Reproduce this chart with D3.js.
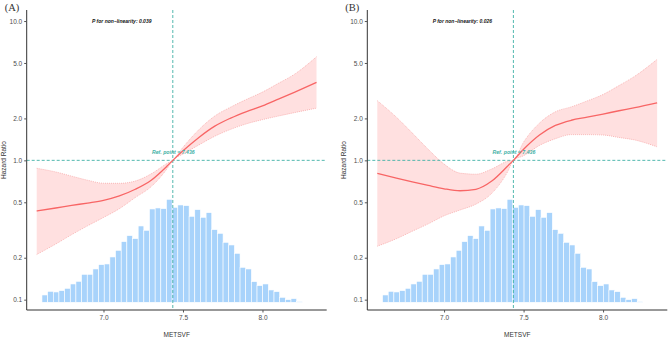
<!DOCTYPE html>
<html>
<head>
<meta charset="utf-8">
<script src="https://cdn.jsdelivr.net/npm/d3@7"></script>
<style>
    body { margin: 0; background: #fff; }
    svg { display: block; }
</style>
</head>
<body>
<div id="chart"></div>
<script>
// METSVF grid where the spline was evaluated
const metsvf = [6.58, 6.7, 6.8, 6.9, 7.0, 7.1, 7.2, 7.3, 7.4, 7.436, 7.5, 7.6, 7.7, 7.8, 7.9, 8.0, 8.1, 8.2, 8.34];

// panel A
const hrA    = [0.433, 0.455, 0.475, 0.494, 0.516, 0.555, 0.62, 0.72, 0.91, 1.0, 1.17, 1.46, 1.76, 2.01, 2.24, 2.46, 2.75, 3.08, 3.63];
const lowerA = [0.211, 0.251, 0.293, 0.339, 0.389, 0.450, 0.541, 0.648, 0.872, 1.0, 1.11, 1.29, 1.49, 1.67, 1.83, 1.96, 2.08, 2.20, 2.37];
const upperA = [0.877, 0.825, 0.77, 0.72, 0.685, 0.684, 0.71, 0.80, 0.95, 1.0, 1.24, 1.66, 2.08, 2.41, 2.74, 3.09, 3.57, 4.14, 5.54];

// panel B
const hrB    = [0.806, 0.745, 0.70, 0.66, 0.625, 0.605, 0.62, 0.71, 0.91, 1.0, 1.20, 1.52, 1.78, 1.94, 2.04, 2.15, 2.27, 2.39, 2.59];
const lowerB = [0.242, 0.274, 0.31, 0.35, 0.40, 0.44, 0.485, 0.58, 0.83, 1.0, 1.08, 1.28, 1.43, 1.53, 1.53, 1.52, 1.46, 1.40, 1.25];
const upperB = [2.68, 2.04, 1.57, 1.20, 0.94, 0.81, 0.795, 0.867, 0.985, 1.0, 1.35, 1.85, 2.23, 2.42, 2.67, 2.97, 3.44, 4.02, 5.31];

// histogram of METSVF (same sample in both panels)
const histStart = 6.613;
const histBinWidth = 0.0356;
const histCounts = [22, 33, 31, 35, 42, 55, 63, 84, 84, 100, 113, 115, 136, 156, 182, 200, 191, 229, 216, 280,
    283, 281, 309, 285, 292, 290, 258, 278, 255, 269, 218, 207, 180, 172, 147, 105, 100, 62, 50, 55,
    37, 32, 15, 8, 11, 2];

const refPoint = 7.436;
const yTicks = [0.1, 0.2, 0.5, 1.0, 2.0, 5.0, 10.0];
const xTicks = [7.0, 7.5, 8.0];
const panels = [
    { tag: "(A)", pText: "P for non\u2212linearity: 0.039", hr: hrA, lower: lowerA, upper: upperA, left: 26.7 },
    { tag: "(B)", pText: "P for non\u2212linearity: 0.026", hr: hrB, lower: lowerB, upper: upperB, left: 367.3 }
];

const width = 669;
const height = 337;
const teal = "#3fb1a6";

let svg = d3.select("#chart")
    .append("svg")
    .attr("width", width)
    .attr("height", height)
    .style("font-family", "Liberation Sans, Arial, sans-serif");

panels.forEach(p => drawPanel(p));

function drawPanel(p) {
    let x = d3.scaleLinear()
        .domain([6.517, 8.404])
        .range([p.left, p.left + 300]);

    let y = d3.scaleLog()
        .domain([0.0843, 12.0])
        .range([310, 10]);

    let hist = d3.scaleLinear()
        .domain([0, d3.max(histCounts)])
        .range([302.3, 199.3]);

    let g = svg.append("g");

    // histogram
    g.append("g")
        .selectAll("rect")
        .data(histCounts)
        .join("rect")
        .attr("x", (d, i) => x(histStart + i * histBinWidth))
        .attr("width", x(histStart + histBinWidth) - x(histStart))
        .attr("y", d => hist(d))
        .attr("height", d => hist(0) - hist(d))
        .attr("fill", "#a8d3fb")
        .attr("stroke", "#fff")
        .attr("stroke-width", 0.6);

    let rows = metsvf.map((m, i) => ({ m: m, hr: p.hr[i], lo: p.lower[i], hi: p.upper[i] }));

    // confidence band
    g.append("path")
        .datum(rows)
        .attr("fill", "#ffe0e0")
        .attr("d", d3.area()
            .x(d => x(d.m))
            .y0(d => y(d.lo))
            .y1(d => y(d.hi))
            .curve(d3.curveMonotoneX));

    ["lo", "hi"].forEach(k => {
        g.append("path")
            .datum(rows)
            .attr("fill", "none")
            .attr("stroke", "#f7a9a9")
            .attr("stroke-width", 0.8)
            .attr("stroke-dasharray", "1,1")
            .attr("d", d3.line()
                .x(d => x(d.m))
                .y(d => y(d[k]))
                .curve(d3.curveMonotoneX));
    });

    // reference lines
    g.append("line")
        .attr("x1", x.range()[0])
        .attr("x2", x.range()[1])
        .attr("y1", y(1))
        .attr("y2", y(1))
        .attr("stroke", teal)
        .attr("stroke-width", 0.9)
        .attr("stroke-dasharray", "3,2");

    g.append("line")
        .attr("x1", x(refPoint))
        .attr("x2", x(refPoint))
        .attr("y1", 10)
        .attr("y2", 310)
        .attr("stroke", teal)
        .attr("stroke-width", 0.9)
        .attr("stroke-dasharray", "3,2");

    // hazard ratio curve
    g.append("path")
        .datum(rows)
        .attr("fill", "none")
        .attr("stroke", "#f86565")
        .attr("stroke-width", 1.3)
        .attr("d", d3.line()
            .x(d => x(d.m))
            .y(d => y(d.hr))
            .curve(d3.curveMonotoneX));

    // axes
    let yAxis = g.append("g")
        .attr("transform", `translate(${p.left}, 0)`)
        .call(d3.axisLeft(y).tickValues(yTicks).tickFormat(d3.format(".1f")).tickSize(2.5).tickPadding(2));

    let xAxis = g.append("g")
        .attr("transform", "translate(0, 310)")
        .call(d3.axisBottom(x).tickValues(xTicks).tickFormat(d3.format(".1f")).tickSize(2.5).tickPadding(3));

    [yAxis, xAxis].forEach(a => {
        a.select(".domain").attr("stroke", "#333").attr("stroke-width", 1);
        a.selectAll(".tick line").attr("stroke", "#555");
        a.selectAll(".tick text")
            .attr("fill", "#4d4d4d")
            .attr("font-size", "6.5px")
            .attr("font-family", "Liberation Sans, Arial, sans-serif");
    });
    yAxis.select(".domain").attr("d", `M0,310V10`);
    xAxis.select(".domain").attr("d", `M${x.range()[0]},0H${x.range()[1]}`);

    // titles
    g.append("text")
        .attr("x", (x.range()[0] + x.range()[1]) / 2)
        .attr("y", 337)
        .attr("text-anchor", "middle")
        .attr("font-size", "6.5px")
        .attr("fill", "#333")
        .text("METSVF");

    g.append("text")
        .attr("transform", `translate(${p.left - 23.5}, 160) rotate(-90)`)
        .attr("text-anchor", "middle")
        .attr("dominant-baseline", "central")
        .attr("font-size", "6.5px")
        .attr("fill", "#333")
        .text("Hazard Ratio");

    g.append("text")
        .attr("x", x(7.115))
        .attr("y", 22.8)
        .attr("text-anchor", "middle")
        .attr("font-size", "5px")
        .attr("font-weight", "bold")
        .attr("font-style", "italic")
        .attr("fill", "#111")
        .text(p.pText);

    g.append("text")
        .attr("x", x(refPoint) + 0.5)
        .attr("y", 153.5)
        .attr("text-anchor", "middle")
        .attr("font-size", "5.2px")
        .attr("font-weight", "bold")
        .attr("font-style", "italic")
        .attr("fill", teal)
        .text("Ref. point = " + refPoint);

    g.append("text")
        .attr("x", p.left - 22)
        .attr("y", 10.5)
        .attr("font-size", "10.5px")
        .attr("font-weight", "normal")
        .attr("font-family", "Liberation Serif, Times New Roman, serif")
        .attr("fill", "#333")
        .text(p.tag);
}
</script>
</body>
</html>
